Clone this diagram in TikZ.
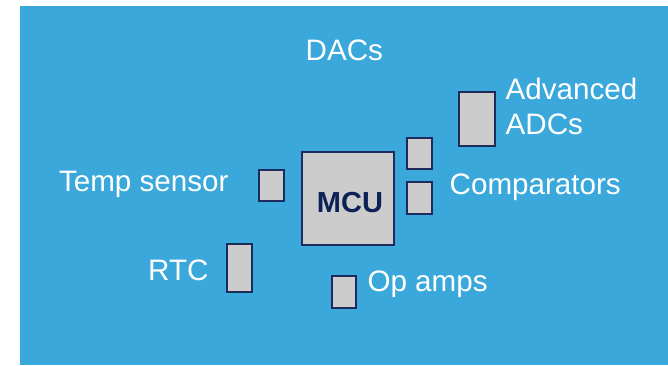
\documentclass[tikz,border=0pt]{standalone}
\usepackage{fontspec}
\setmainfont{Liberation Sans}
\definecolor{bgblue}{HTML}{3AA8DB}
\definecolor{chipgray}{HTML}{CCCCCC}
\definecolor{chipedge}{HTML}{1F2A5C}
\definecolor{mcutext}{HTML}{0C2257}
\begin{document}
\begin{tikzpicture}[x=1pt,y=-1pt,
  chip/.style={draw=chipedge, fill=chipgray, line width=1.2pt, inner sep=0pt, outer sep=0pt, rectangle},
  lbl/.style={text=white, font=\fontsize{29.6}{35}\selectfont, inner sep=0pt, anchor=base west, align=left}]
\useasboundingbox (0,0) rectangle (668,365);
\fill[bgblue] (20,6) rectangle (668,365);
% chips
\node[chip, minimum width=92pt, minimum height=93pt] (mcu) at (348,198.5) {};
\node[text=mcutext, font=\bfseries\fontsize{29}{35}\selectfont, inner sep=0pt, anchor=base] (mcul) at (350,212) {MCU};
\node[chip, minimum width=25pt, minimum height=31pt] (temp) at (271.5,185.5) {};
\node[chip, minimum width=25pt, minimum height=48pt] (rtc) at (239.5,268) {};
\node[chip, minimum width=24pt, minimum height=32pt] (opamp) at (344,292) {};
\node[chip, minimum width=25pt, minimum height=31pt] (dac) at (419.5,153.5) {};
\node[chip, minimum width=25pt, minimum height=32pt] (comp) at (419.5,198) {};
\node[chip, minimum width=36pt, minimum height=54pt] (adc) at (477,119) {};
% labels
\node[lbl] (dacl) at (305.5,60) {DACs};
\node[lbl] (adcl) at (505.5,134) {Advanced\\ADCs};
\node[lbl] (compl) at (449.5,194) {Comparators};
\node[lbl] (templ) at (58.8,191.3) {Temp sensor};
\node[lbl] (rtcl) at (148,280.7) {RTC};
\node[lbl] (opampl) at (367.3,291) {Op amps};
\end{tikzpicture}
\end{document}
